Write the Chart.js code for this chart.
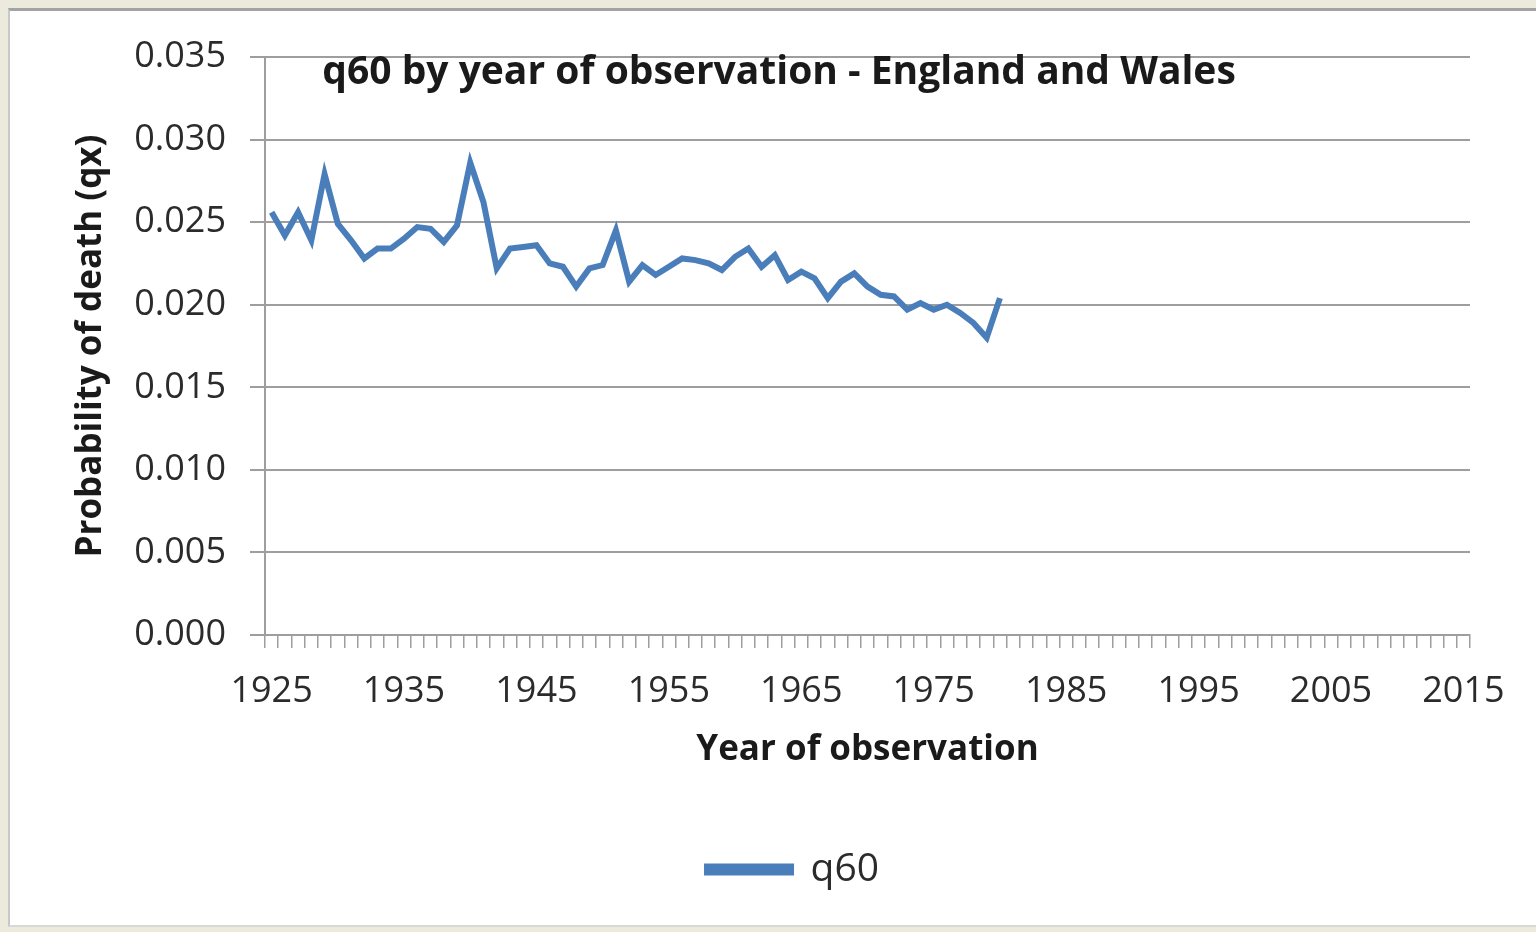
<!DOCTYPE html>
<html>
<head>
<meta charset="utf-8">
<script src="https://cdn.jsdelivr.net/npm/chart.js@4.4.1/dist/chart.umd.min.js"></script>
<style>
  html, body { margin: 0; padding: 0; overflow: hidden; background: #ece9dd; }
  #panel {
    position: absolute; left: 8px; top: 8px; width: 1560px; height: 914px;
    background: #fff; border-top: 3px solid #a3a3a3; border-left: 2px solid #c8c8c8;
    border-bottom: 2px solid #d8d8d8;
  }
  #wrap { position: absolute; left: 0; top: 0; width: 1536px; height: 932px; }
</style>
</head>
<body>
<div id="panel"></div>
<div id="wrap"><canvas id="q60Chart"></canvas></div>
<script>
// années de l'axe (1925 -> 2015)
const years = [];
for (let y = 1925; y <= 2015; y++) years.push(String(y));

const q60 = [
  0.0256, 0.0242, 0.0256, 0.0239, 0.0279, 0.0249, 0.0239, 0.0228, 0.0234, 0.0234,
  0.0240, 0.0247, 0.0246, 0.0238, 0.0248, 0.0286, 0.0262, 0.0222, 0.0234, 0.0235,
  0.0236, 0.0225, 0.0223, 0.0211, 0.0222, 0.0224, 0.0245, 0.0214, 0.0224, 0.0218,
  0.0223, 0.0228, 0.0227, 0.0225, 0.0221, 0.0229, 0.0234, 0.0223, 0.0230, 0.0215,
  0.0220, 0.0216, 0.0204, 0.0214, 0.0219, 0.0211, 0.0206, 0.0205, 0.0197, 0.0201,
  0.0197, 0.0200, 0.0195, 0.0189, 0.0180, 0.0204
];

const yTicks = { min: 0, max: 0.035, step: 0.005 };

const gridGrey = '#9e9e9e';
const textCol = '#2b2b2b';

// titre posé dans la zone du graphique, comme Excel
const overlayTitle = {
  id: 'overlayTitle',
  afterLayout(chart) {
    // légende un peu décalée vers la droite
    chart.legend.left += 28;
    chart.legend.right += 28;
  },
  afterDraw(chart) {
    const ctx = chart.ctx;
    ctx.save();
    ctx.font = 'bold 39px "Open Sans"';
    ctx.fillStyle = '#1a1a1a';
    ctx.textAlign = 'center';
    ctx.textBaseline = 'middle';
    ctx.fillText('q60 by year of observation - England and Wales', 779, 73);
    ctx.restore();
  }
};

const canvas = document.querySelector('#q60Chart');

const chart = new Chart(canvas, {
  type: 'line',
  data: {
    labels: years,
    datasets: [{
      label: 'q60',
      data: q60,
      borderColor: '#4a7ebb',
      backgroundColor: '#4a7ebb',
      borderWidth: 6,
      pointRadius: 0,
      tension: 0,
      fill: false,
    }],
  },
  options: {
    responsive: true,
    maintainAspectRatio: false,
    animation: false,
    layout: { padding: { left: 60, top: 57, right: 66, bottom: 33 } },
    plugins: {
      title: { display: false },
      tooltip: { enabled: false },
      legend: {
        position: 'bottom',
        labels: {
          boxWidth: 84,
          boxHeight: 6,
          color: textCol,
          font: { family: 'Open Sans', size: 39 },
        },
      },
    },
    scales: {
      x: {
        type: 'category',
        offset: true,
        grid: {
          offset: true,
          drawOnChartArea: false,
          drawTicks: true,
          tickLength: 13,
          color: gridGrey,
          lineWidth: 1.5,
        },
        border: { color: gridGrey, width: 2 },
        ticks: {
          autoSkip: false,
          maxRotation: 0,
          padding: 22,
          color: textCol,
          font: { family: 'Open Sans', size: 36 },
          callback: function (val, i) {
            const yr = Number(this.getLabelForValue(val));
            return (yr - 1925) % 10 === 0 ? String(yr) : '';
          },
        },
        title: {
          display: true,
          text: 'Year of observation',
          color: '#1a1a1a',
          font: { family: 'Open Sans', size: 35, weight: 'bold' },
          padding: { top: 0, bottom: 69 },
        },
        afterFit: function (scale) { scale.height = 205; },
      },
      y: {
        min: yTicks.min,
        max: yTicks.max,
        grid: { color: gridGrey, lineWidth: 2, tickLength: 15 },
        border: { color: gridGrey, width: 2 },
        ticks: {
          stepSize: yTicks.step,
          padding: 24,
          color: textCol,
          font: { family: 'Open Sans', size: 36 },
          callback: (v) => Number(v).toFixed(3),
        },
        title: {
          display: true,
          text: 'Probability of death (qx)',
          color: '#1a1a1a',
          font: { family: 'Open Sans', size: 35, weight: 'bold' },
          padding: { top: 10, bottom: 0 },
        },
        afterFit: function (scale) { scale.width = 205; },
      },
    },
  },
  plugins: [overlayTitle],
});
</script>
</body>
</html>
